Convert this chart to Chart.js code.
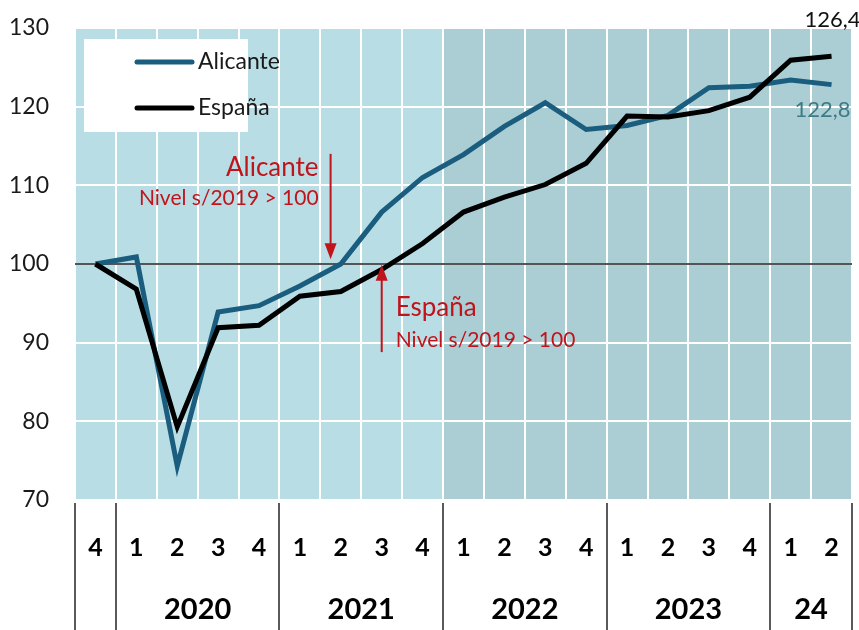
<!DOCTYPE html>
<html>
<head>
<meta charset="utf-8">
<script src="https://cdn.jsdelivr.net/npm/chart.js@4.4.1/dist/chart.umd.min.js"></script>
<style>
  html, body { margin: 0; padding: 0; background: #fff; }
  #wrap { width: 859px; height: 630px; }
</style>
</head>
<body>
<div id="wrap"><canvas id="chart" width="859" height="630"></canvas></div>
<script>
// Índice base 2019 = 100, trimestral
const quarters = ['4', '1', '2', '3', '4', '1', '2', '3', '4', '1', '2', '3', '4', '1', '2', '3', '4', '1', '2'];
const years = ['', '2020', '2021', '2022', '2023', '24'];
const yearSpans = [1, 4, 4, 4, 4, 2];

const alicante = [100, 100.9, 74.3, 93.9, 94.7, 97.2, 100, 106.6, 111, 113.9, 117.5, 120.5, 117.1, 117.6, 118.9, 122.4, 122.6, 123.4, 122.8];
const espana = [100, 96.8, 79.3, 91.9, 92.2, 95.9, 96.5, 99.3, 102.6, 106.6, 108.5, 110.1, 112.8, 118.8, 118.7, 119.5, 121.2, 125.9, 126.4];

const yTicks = [70, 80, 90, 100, 110, 120, 130];

const COLORS = {
  alicante: '#1b5d7e',
  espana: '#000000',
  bgLight: '#b8dde4',
  bgDark: '#abced5',
  red: '#c0141c',
  axis: '#5a5a5a',
  text: '#1a1a1a',
  tealLabel: '#3e7b86',
};
const FONT = 'Lato, "Open Sans", sans-serif';

// fondo: claro hasta 2021, más oscuro desde 2022
const backgroundPlugin = {
  id: 'bands',
  beforeDraw(chart) {
    const { ctx, chartArea: a, scales: { x } } = chart;
    const split = (x.getPixelForValue(8) + x.getPixelForValue(9)) / 2;
    ctx.save();
    ctx.fillStyle = COLORS.bgLight;
    ctx.fillRect(a.left, a.top, split - a.left, a.bottom - a.top);
    ctx.fillStyle = COLORS.bgDark;
    ctx.fillRect(split, a.top, a.right - split, a.bottom - a.top);
    ctx.restore();
  },
};

// separadores de año y etiquetas de año bajo el eje
const yearAxisPlugin = {
  id: 'yearAxis',
  afterDraw(chart) {
    const { ctx, chartArea: a, scales: { x } } = chart;
    const half = (x.getPixelForValue(1) - x.getPixelForValue(0)) / 2;
    ctx.save();
    ctx.strokeStyle = COLORS.axis;
    ctx.lineWidth = 2;
    let idx = 0;
    const edges = [x.getPixelForValue(0) - half];
    years.forEach((label, k) => {
      const start = idx;
      idx += yearSpans[k];
      const left = x.getPixelForValue(start) - half;
      const right = x.getPixelForValue(idx - 1) + half;
      edges.push(right);
      if (label) {
        ctx.fillStyle = '#000';
        ctx.font = 'bold 29px ' + FONT;
        ctx.textAlign = 'center';
        ctx.textBaseline = 'middle';
        ctx.fillText(label, (left + right) / 2, 610);
      }
    });
    edges.forEach(px => {
      ctx.beginPath();
      ctx.moveTo(Math.round(px), a.bottom + 3);
      ctx.lineTo(Math.round(px), chart.height);
      ctx.stroke();
    });
    ctx.restore();
  },
};

function arrow(ctx, x, yFrom, yTo) {
  const dir = yTo > yFrom ? 1 : -1;
  ctx.beginPath();
  ctx.moveTo(x, yFrom);
  ctx.lineTo(x, yTo - dir * 14);
  ctx.stroke();
  ctx.beginPath();
  ctx.moveTo(x, yTo);
  ctx.lineTo(x - 6, yTo - dir * 16);
  ctx.lineTo(x + 6, yTo - dir * 16);
  ctx.closePath();
  ctx.fill();
}

// notas, flechas, leyenda y últimos valores
const notesPlugin = {
  id: 'notes',
  afterDatasetsDraw(chart) {
    const { ctx, scales: { x, y } } = chart;
    ctx.save();
    ctx.strokeStyle = COLORS.red;
    ctx.fillStyle = COLORS.red;
    ctx.lineWidth = 2;

    const ax = x.getPixelForValue(5.75);
    arrow(ctx, ax, y.getPixelForValue(114), y.getPixelForValue(100.6));
    const ex = x.getPixelForValue(7.0);
    arrow(ctx, ex, y.getPixelForValue(88.8), y.getPixelForValue(99.9));

    ctx.textBaseline = 'middle';
    ctx.textAlign = 'right';
    ctx.font = '26px ' + FONT;
    ctx.fillText('Alicante', ax - 12, y.getPixelForValue(112.3));
    ctx.font = '21px ' + FONT;
    ctx.fillText('Nivel s/2019 > 100', ax - 12, y.getPixelForValue(108.3));
    ctx.textAlign = 'left';
    ctx.font = '26px ' + FONT;
    ctx.fillText('España', ex + 14, y.getPixelForValue(94.4));
    ctx.font = '21px ' + FONT;
    ctx.fillText('Nivel s/2019 > 100', ex + 14, y.getPixelForValue(90.3));

    // últimos valores
    const last = quarters.length - 1;
    ctx.font = '22px ' + FONT;
    ctx.textAlign = 'center';
    ctx.fillStyle = '#111';
    ctx.fillText('126,4', x.getPixelForValue(last) + 1, y.getPixelForValue(espana[last]) - 36);
    ctx.fillStyle = COLORS.tealLabel;
    ctx.fillText('122,8', x.getPixelForValue(last) - 9, y.getPixelForValue(alicante[last]) + 25);

    // leyenda
    ctx.fillStyle = '#fff';
    ctx.fillRect(84, 39, 164, 93);
    const items = [['Alicante', COLORS.alicante, 62], ['España', COLORS.espana, 108]];
    ctx.lineCap = 'round';
    ctx.lineWidth = 5;
    ctx.textAlign = 'left';
    ctx.font = '23px ' + FONT;
    items.forEach(([label, color, ly]) => {
      ctx.strokeStyle = color;
      ctx.beginPath();
      ctx.moveTo(137, ly);
      ctx.lineTo(192, ly);
      ctx.stroke();
      ctx.fillStyle = COLORS.text;
      ctx.fillText(label, 198, ly);
    });
    ctx.restore();
  },
};

new Chart(document.getElementById('chart'), {
  type: 'line',
  data: {
    labels: quarters,
    datasets: [
      {
        label: 'Alicante',
        data: alicante,
        borderColor: COLORS.alicante,
        borderWidth: 5,
        pointRadius: 0,
        tension: 0,
        order: 2,
      },
      {
        label: 'España',
        data: espana,
        borderColor: COLORS.espana,
        borderWidth: 5,
        pointRadius: 0,
        tension: 0,
        order: 1,
      },
    ],
  },
  options: {
    responsive: false,
    devicePixelRatio: 1,
    animation: false,
    layout: { padding: { left: 0, right: 7, top: 28, bottom: 0 } },
    plugins: {
      legend: { display: false },
      tooltip: { enabled: false },
    },
    scales: {
      x: {
        offset: true,
        grid: { offset: true, color: '#ffffff', lineWidth: 2, drawTicks: false },
        border: { display: false },
        ticks: {
          color: '#000',
          font: { family: FONT, size: 25, weight: 'bold' },
          padding: 33,
          maxRotation: 0,
          autoSkip: false,
        },
        afterFit(scale) {
          scale.height = 130;
          scale.paddingLeft = 0;
          scale.paddingRight = 0;
        },
      },
      y: {
        min: 70,
        max: 130,
        afterBuildTicks(scale) { scale.ticks = yTicks.map(v => ({ value: v })); },
        grid: {
          color: ctx => ctx.tick && ctx.tick.value === 100 ? '#555555' : '#ffffff',
          lineWidth: 2,
          drawTicks: false,
        },
        border: { display: false },
        ticks: {
          color: COLORS.text,
          font: { family: FONT, size: 23 },
          padding: 26,
        },
        afterFit(scale) {
          scale.width = 75;
          scale.paddingTop = 0;
          scale.paddingBottom = 0;
        },
      },
    },
  },
  plugins: [backgroundPlugin, yearAxisPlugin, notesPlugin],
});
</script>
</body>
</html>
